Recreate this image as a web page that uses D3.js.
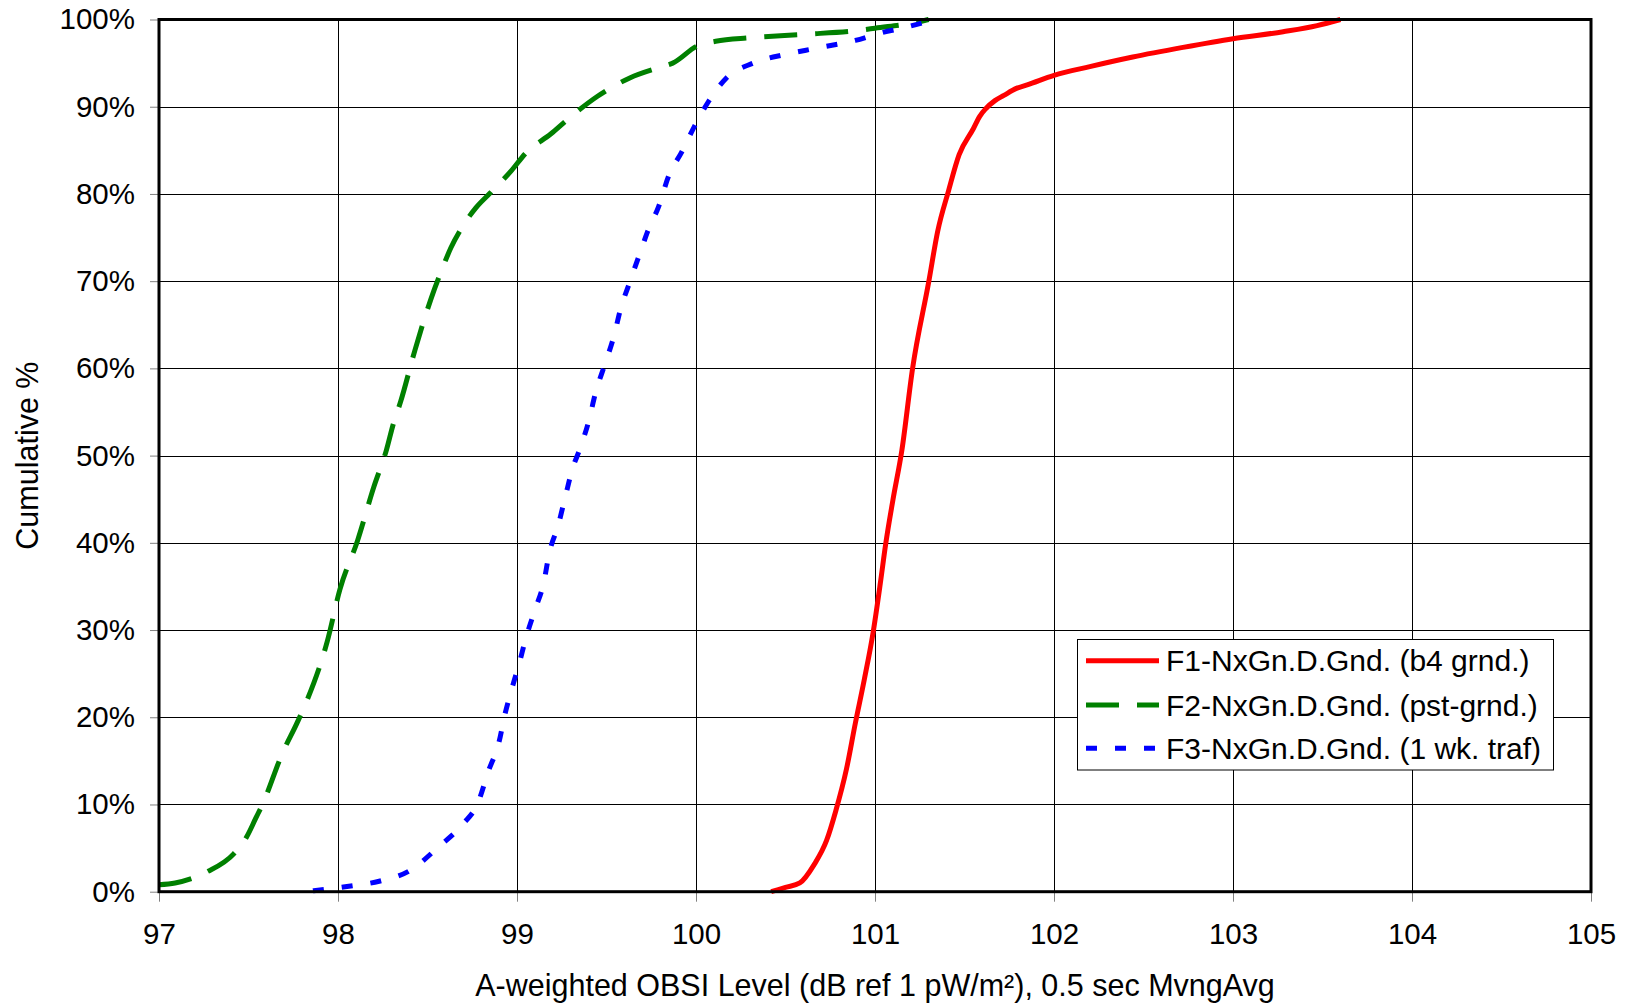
<!DOCTYPE html>
<html>
<head>
<meta charset="utf-8">
<script src="https://cdn.jsdelivr.net/npm/d3@7"></script>
<style>
  html, body { margin: 0; padding: 0; background: #fff; }
  svg { display: block; font-family: "Liberation Sans", Arial, sans-serif; }
</style>
</head>
<body>
<svg id="chart" width="1629" height="1005"></svg>
<script>
// ---- Data ----
const seriesNames = ["F1-NxGn.D.Gnd. (b4 grnd.)", "F2-NxGn.D.Gnd. (pst-grnd.)", "F3-NxGn.D.Gnd. (1 wk. traf)"];

const f1Level = [100.42, 100.50, 100.58, 100.66, 100.73, 100.78, 100.84, 100.89, 100.94, 100.99, 101.03, 101.06, 101.10, 101.15, 101.21, 101.30, 101.35, 101.41, 101.47, 101.55, 101.585, 101.62, 101.67, 101.72, 101.79, 101.85, 102.00, 102.20, 102.44, 102.72, 103.00, 103.28, 103.47, 103.60];
const f1Cum   = [0, 0.5, 1.0, 3.1, 5.9, 9.2, 14.0, 19.3, 24.3, 29.8, 35.4, 39.9, 44.9, 50.6, 60.0, 69.9, 75.7, 80.3, 84.5, 87.5, 88.9, 89.8, 90.7, 91.3, 92.1, 92.5, 93.6, 94.6, 95.7, 96.8, 97.8, 98.6, 99.3, 100];

const f2Level = [97.00, 97.09, 97.27, 97.42, 97.49, 97.54, 97.58, 97.69, 97.77, 97.82, 97.94, 98.01, 98.11, 98.20, 98.27, 98.31, 98.35, 98.43, 98.48, 98.52, 98.58, 98.63, 98.70, 98.77, 98.85, 98.97, 99.05, 99.19, 99.28, 99.45, 99.63, 99.81, 99.87, 100.01, 100.11, 100.30, 100.60, 100.89, 101.00, 101.26, 101.30];
const f2Cum   = [0.8, 1.0, 2.3, 4.4, 6.3, 8.4, 10.1, 15.9, 19.3, 21.6, 28.7, 34.6, 40.3, 46.4, 50.6, 53.7, 56.2, 62.1, 65.5, 68.0, 71.3, 73.8, 76.4, 78.4, 80.1, 82.7, 84.7, 86.9, 88.5, 91.2, 93.3, 94.6, 95.0, 97.0, 97.5, 97.9, 98.3, 98.7, 99.0, 99.8, 100];

const f3Level = [97.86, 98.05, 98.23, 98.40, 98.56, 98.70, 98.78, 98.84, 98.90, 98.93, 98.98, 99.01, 99.05, 99.10, 99.15, 99.18, 99.23, 99.27, 99.31, 99.35, 99.40, 99.44, 99.49, 99.54, 99.58, 99.63, 99.69, 99.73, 99.79, 99.85, 99.92, 100.00, 100.07, 100.17, 100.32, 100.50, 100.67, 100.89, 101.04, 101.17, 101.33];
const f3Cum   = [0.1, 0.6, 1.2, 2.4, 5.1, 7.8, 10.1, 13.8, 17.2, 20.1, 23.9, 26.0, 29.1, 32.3, 35.5, 38.8, 42.0, 45.3, 48.5, 50.7, 53.9, 57.3, 60.4, 63.6, 66.9, 69.9, 73.4, 75.7, 78.5, 82.2, 84.8, 88.1, 90.6, 93.3, 95.0, 96.0, 96.7, 97.6, 98.5, 99.1, 100];

const xTicks = [97, 98, 99, 100, 101, 102, 103, 104, 105];
const yTicks = [0, 10, 20, 30, 40, 50, 60, 70, 80, 90, 100];
const xTitle = "A-weighted OBSI Level (dB ref 1 pW/m\u00B2), 0.5 sec MvngAvg";
const yTitle = "Cumulative %";

// ---- Layout ----
const L = 159, R = 1591, T = 19.5, B = 891.7;
const svg = d3.select("#chart");
const x = d3.scaleLinear().domain([97, 105]).range([L, R]);
const y = d3.scaleLinear().domain([0, 100]).range([B, T]);

// grid
const grid = svg.append("g");
grid.selectAll("line.v").data(xTicks.slice(1, -1)).join("line")
  .attr("x1", d => Math.round(x(d)) + 0.5).attr("x2", d => Math.round(x(d)) + 0.5)
  .attr("y1", T).attr("y2", B).attr("stroke", "#000").attr("stroke-width", 1);
grid.selectAll("line.h").data(yTicks.slice(1, -1)).join("line")
  .attr("y1", d => Math.round(y(d)) + 0.5).attr("y2", d => Math.round(y(d)) + 0.5)
  .attr("x1", L).attr("x2", R).attr("stroke", "#000").attr("stroke-width", 1);

// axes
const fs = 29.5;
const xAxis = svg.append("g").attr("transform", `translate(0,${B})`)
  .call(d3.axisBottom(x).tickValues(xTicks).tickFormat(d3.format("d")).tickSize(10).tickPadding(21));
xAxis.select(".domain").remove();
xAxis.selectAll(".tick line").attr("stroke", "#808080");
xAxis.selectAll("text").attr("font-size", fs).attr("fill", "#000").attr("font-family", "Liberation Sans, Arial, sans-serif");

const yAxis = svg.append("g").attr("transform", `translate(${L},0)`)
  .call(d3.axisLeft(y).tickValues(yTicks).tickFormat(d => d + "%").tickSize(9).tickPadding(15));
yAxis.select(".domain").remove();
yAxis.selectAll(".tick line").attr("stroke", "#808080");
yAxis.selectAll("text").attr("font-size", fs).attr("fill", "#000").attr("font-family", "Liberation Sans, Arial, sans-serif");

// series
const series = [
  { name: seriesNames[0], xs: f1Level, ys: f1Cum, color: "#ff0000", dash: null },
  { name: seriesNames[1], xs: f2Level, ys: f2Cum, color: "#008000", dash: "33,18" },
  { name: seriesNames[2], xs: f3Level, ys: f3Cum, color: "#0000ff", dash: "11,18" }
];
const line = d3.line().x(d => x(d[0])).y(d => y(d[1])).curve(d3.curveMonotoneX);
const plot = svg.append("g");
series.forEach(s => {
  plot.append("path")
    .datum(s.xs.map((v, i) => [v, s.ys[i]]))
    .attr("d", line)
    .attr("fill", "none")
    .attr("stroke", s.color)
    .attr("stroke-width", 5)
    .attr("stroke-dasharray", s.dash)
    .attr("stroke-linejoin", "round");
});

// frame
svg.append("rect").attr("x", L).attr("y", T).attr("width", R - L).attr("height", B - T)
  .attr("fill", "none").attr("stroke", "#000").attr("stroke-width", 3);

// titles
svg.append("text").attr("x", (L + R) / 2).attr("y", 996).attr("text-anchor", "middle")
  .attr("font-size", 30.5).attr("fill", "#000").text(xTitle);
svg.append("text").attr("transform", `translate(38,${(T + B) / 2}) rotate(-90)`).attr("text-anchor", "middle")
  .attr("font-size", 30.5).attr("fill", "#000").text(yTitle);

// legend
const lg = svg.append("g");
lg.append("rect").attr("x", 1077.5).attr("y", 639.5).attr("width", 476).attr("height", 130.5)
  .attr("fill", "#fff").attr("stroke", "#000").attr("stroke-width", 1);
const rowY = [660.7, 705, 748.3];
series.forEach((s, i) => {
  lg.append("line").attr("x1", 1086).attr("x2", 1159).attr("y1", rowY[i]).attr("y2", rowY[i])
    .attr("stroke", s.color).attr("stroke-width", 5).attr("stroke-dasharray", s.dash);
  lg.append("text").attr("x", 1166).attr("y", rowY[i]).attr("dy", "0.35em")
    .attr("font-size", 30).attr("fill", "#000").text(s.name);
});
</script>
</body>
</html>
